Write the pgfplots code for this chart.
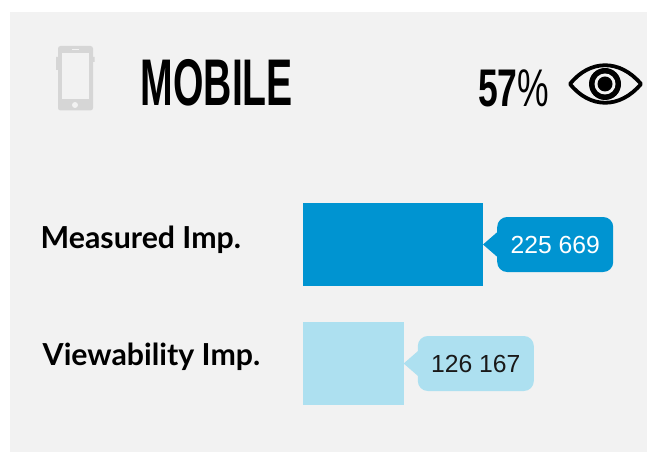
\documentclass[border=0pt]{standalone}
\usepackage{graphicx}
\usepackage{fontspec}
\setmainfont{Liberation Sans}
\newfontfamily\labelfont{Lato}
\usepackage{pgfplots}
\pgfplotsset{compat=1.18}

\definecolor{panel}{HTML}{F2F2F2}
\definecolor{iconGrey}{HTML}{D6D6D6}
\definecolor{barDark}{HTML}{0094D1}
\definecolor{barLight}{HTML}{ADE0F0}

% little arrow of the value callout, its tip on the end of the bar
\pgfdeclareplotmark{tip}{%
  \pgfpathmoveto{\pgfpoint{0pt}{0pt}}%
  \pgfpathlineto{\pgfpoint{15pt}{13pt}}%
  \pgfpathlineto{\pgfpoint{15pt}{-13pt}}%
  \pgfpathclose
  \pgfusepathqfill
}

\pgfplotstableread{
y v label
244.5 225669 {225 669}
}\measured
\pgfplotstableread{
y v label
363.5 126167 {126 167}
}\viewability

\pgfplotsset{callout/.style={
    xbar, bar shift=0pt, bar width=83pt, fill=#1, draw=none,
    point meta=explicit symbolic, nodes near coords,
    every node near coord/.append style={anchor=west, xshift=14pt, fill=#1,
      minimum width=116pt, minimum height=55pt, inner sep=0pt, rounded corners=10pt,
      font=\fontsize{24.7}{24.7}\selectfont}}}

\begin{document}
\begin{tikzpicture}
\path[use as bounding box] (0,0) rectangle (647pt,452pt);
\begin{axis}[
    at={(0,0)}, anchor=south west,
    width=647pt, height=452pt, scale only axis,
    hide axis, clip=false,
    xmin=-379875, xmax=431280,
    ymin=0, ymax=452, y dir=reverse,
]
\fill[panel] (axis cs:-367338,12) rectangle (axis cs:431280,452);
\addplot[callout=barDark, every node near coord/.append style={text=white}]
    table[x=v, y=y, meta=label] {\measured};
\addplot[callout=barLight, every node near coord/.append style={text=black!90}]
    table[x=v, y=y, meta=label] {\viewability};
\addplot[only marks, mark=tip, color=barDark] table[x=v, y=y] {\measured};
\addplot[only marks, mark=tip, color=barLight] table[x=v, y=y] {\viewability};
\end{axis}

% header and row labels, coordinates are pixels from the top left
\begin{scope}[x=1pt, y=-1pt, shift={(0pt,452pt)}]
  % phone
  \fill[iconGrey, rounded corners=2.5pt] (58,46) rectangle (93,110.5);
  \fill[iconGrey] (56,57) rectangle (58,70) (93,57) rectangle (94.5,62);
  \fill[panel] (62,53) rectangle (89,99);
  \fill[panel] (71.5,48.7) rectangle (78.5,50.2);
  \fill[panel] (75,105) circle (3);
  % eye
  \draw[black, line width=3.8pt, line join=round] (570,84) .. controls (590,59) and (620,59) .. (641,84)
      .. controls (620,109) and (590,109) .. (570,84) -- cycle;
  \fill[black] (605,84) circle (16);
  \fill[panel] (605,84) circle (10.5);
  \fill[black] (605,84) circle (7.5);
  % texts
  \node[anchor=base west, inner sep=0pt] at (140.5,106)
    {\scalebox{0.593}[1]{\fontsize{66}{66}\selectfont\bfseries MOBILE}};
  \node[anchor=base west, inner sep=0pt] at (478,106.5)
    {\scalebox{0.67}[1]{\fontsize{53}{53}\selectfont{\bfseries 57}\%}};
  \node[anchor=base west, inner sep=0pt] at (40.5,249)
    {\labelfont\bfseries\fontsize{30.3}{30.3}\selectfont Measured Imp.};
  \node[anchor=base west, inner sep=0pt] at (42.5,365.7)
    {\labelfont\bfseries\fontsize{30.3}{30.3}\selectfont Viewability Imp.};
\end{scope}
\end{tikzpicture}
\end{document}
